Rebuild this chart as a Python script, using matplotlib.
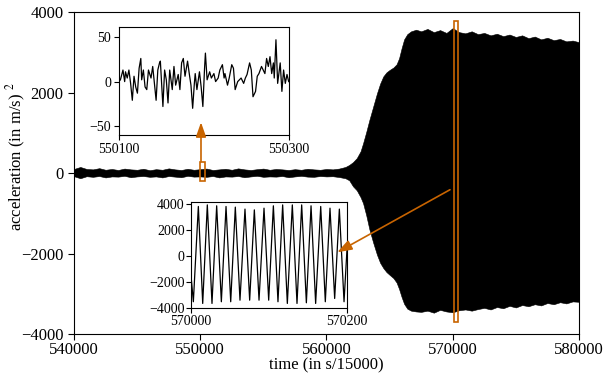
import matplotlib
matplotlib.use("Agg")
import matplotlib.pyplot as plt
from matplotlib.patches import Rectangle

plt.rcParams['font.family'] = ['Liberation Serif', 'DejaVu Serif']
plt.rcParams['mathtext.fontset'] = 'stix'

# ---------------- data ----------------
# envelope of the main acceleration signal (time in samples, value in m/s^2)
env_t = [540000, 540500, 541000, 541500, 542000, 542500, 543000, 543500, 544000, 544500,
         545000, 545500, 546000, 546500, 547000, 547500, 548000, 548500, 549000, 549500,
         550000, 550500, 551000, 551500, 552000, 552500, 553000, 553500, 554000, 554500,
         555000, 555500, 556000, 556500, 557000, 557500, 558000, 558500, 559000, 559500,
         560000, 560500, 561000,
         561500, 561800, 562100, 562400, 562700, 562900, 563150, 563400, 563700, 564000,
         564250, 564500, 564750, 565000, 565300, 565550, 565750, 565950, 566150, 566400,
         566700, 567100,
         567500, 568000, 568500, 569000, 569500, 570000, 570500, 571000, 571500, 572000,
         572500, 573000, 573500, 574000, 574500, 575000, 575500, 576000, 576500, 577000,
         577500, 578000, 578500, 579000, 579500, 580000]
env_hi = [100, 150, 100, 90, 120, 80, 100, 75, 110, 90,
          80, 105, 70, 95, 80, 115, 90, 75, 105, 80,
          95, 110, 75, 90, 105, 80, 115, 90, 75, 95,
          110, 80, 100, 90, 75, 95, 80, 105, 90, 80,
          100, 90, 110,
          150, 200, 270, 370, 540, 740, 1020, 1320, 1650, 1980,
          2220, 2400, 2500, 2560, 2620, 2700, 2850, 3100, 3320, 3450,
          3520, 3560,
          3520, 3580, 3500, 3550, 3480, 3600, 3500, 3470, 3520, 3450,
          3480, 3420, 3460, 3400, 3440, 3380, 3420, 3350, 3390, 3320,
          3360, 3300, 3330, 3270, 3290, 3250]
env_lo = [-80, -130, -80, -95, -75, -110, -85, -90, -70, -105,
          -85, -75, -95, -85, -110, -75, -90, -105, -70, -90,
          -85, -95, -75, -110, -85, -90, -75, -105, -85, -70,
          -95, -85, -90, -75, -105, -85, -70, -90, -95, -75,
          -85, -80, -100,
          -130, -180, -330, -430, -600, -750, -1050, -1400, -1730, -2030,
          -2230, -2360, -2460, -2530, -2610, -2720, -2880, -3080, -3250, -3370,
          -3420, -3440,
          -3450, -3420, -3470, -3400, -3440, -3460, -3410, -3390, -3420, -3380,
          -3350, -3390, -3330, -3360, -3300, -3340, -3280, -3310, -3260, -3290,
          -3230, -3260, -3210, -3240, -3190, -3200]

# upper inset: quiet part of the signal
in1_start = 550100
in1_off = [0, 2, 5, 7, 8, 10, 12, 14, 16, 18, 20, 22, 24, 26, 27, 29, 31, 33, 35, 38,
           40, 42, 44, 46, 48, 49, 52, 54, 56, 58, 60, 63, 65, 67, 70, 72, 74, 76, 78, 81,
           83, 85, 87, 89, 90, 92, 95, 97, 99, 101, 102, 104, 107, 109, 112, 114, 117, 119,
           122, 124, 125, 128, 130, 133, 135, 137, 140, 142, 144, 147, 149, 151, 154, 156,
           158, 161, 163, 165, 168, 170, 172, 174, 176, 178, 180, 182, 183, 185, 187, 190,
           192, 194, 196, 198, 200]
in1_val = [0, 2, 13, 0, 11, 4, 13, -2, -21, 6, -6, -13, 15, 26, 2, 13, -6, -9, 13, 4,
           17, -2, -21, 13, 21, 23, -28, 13, 2, -24, 13, -9, 17, -4, 8, -9, 21, 26, 6, 23,
           9, -4, -30, -2, 9, -9, 11, -6, -28, 15, 32, 2, 11, 4, 9, 0, 4, 13,
           19, 4, 9, -4, 4, 19, 15, -9, 0, 2, 4, -2, 4, 8, 21, 13,
           -17, -11, 6, 9, 17, 13, 9, 26, 17, 28, 9, 21, 4, 47, -2, 21,
           -11, 13, -2, 8, 0]

# lower inset: oscillating part (peaks / troughs)
in2_start = 570000
in2_off = [0, 3, 9.4, 15, 20.9, 26.9, 32.9, 38.9, 44.9, 50.9, 56.8, 62.8, 69.2, 75.2,
           81.2, 87.2, 93.6, 99.6, 105.6, 111.5, 117.5, 123.5, 129.9, 135.9, 141.9,
           147.9, 153.9, 159.8, 166.3, 172.2, 178.2, 184.2, 190.2, 196.2, 200]
in2_val = [-1500, -3500, 3780, -3630, 3900, -3630, 3830, -3500, 3780, -3500, 3730, -3380,
           3580, -3380, 3520, -3380, 3650, -3380, 3830, -3500, 3900, -3630, 3900, -3630,
           3900, -3580, 3830, -3630, 3780, -3500, 3650, -3250, 3580, -3500, 500]

main_xticks = [540000, 550000, 560000, 570000, 580000]
main_yticks = [-4000, -2000, 0, 2000, 4000]
in1_xticks = [550100, 550300]
in1_yticks = [-50, 0, 50]
in2_xticks = [570000, 570200]
in2_yticks = [-4000, -2000, 0, 2000, 4000]

ORANGE = '#c86400'


def minus(v):
    return str(v).replace('-', '\u2212')


# ---------------- figure ----------------
fig = plt.figure(figsize=(6.06, 3.75), dpi=100)
ax = fig.add_axes([0.1221, 0.1093, 0.8333, 0.8587])

ax.fill_between(env_t, env_lo, env_hi, color='black', linewidth=0.4, edgecolor='black')
ax.set_xlim(540000, 580000)
ax.set_ylim(-4000, 4000)
ax.set_xticks(main_xticks)
ax.set_xticklabels([str(v) for v in main_xticks])
ax.set_yticks(main_yticks)
ax.set_yticklabels([minus(v) for v in main_yticks])
ax.tick_params(direction='out', length=4, width=0.8, labelsize=12, top=False, right=False)
ax.tick_params(axis='x', pad=1.5)
ax.set_xlabel('time (in s/15000)', fontsize=12)
ax.xaxis.set_label_coords(0.5, -0.074)
ax.set_ylabel('acceleration (in m/s) $^2$', fontsize=12)
ax.yaxis.set_label_coords(-0.092, 0.55)
for s in ax.spines.values():
    s.set_linewidth(0.8)

# orange boxes
ax.add_patch(Rectangle((550000, -200), 400, 480, fill=False, edgecolor=ORANGE,
                       linewidth=1.2, zorder=5))
ax.add_patch(Rectangle((570100, -3700), 300, 7470, fill=False, edgecolor=ORANGE,
                       linewidth=1.2, zorder=5))

# upper inset
ax1 = fig.add_axes([0.1959, 0.64, 0.2805, 0.2872])
ax1.plot([in1_start + o for o in in1_off], in1_val, color='black', linewidth=0.9)
ax1.set_xlim(550100, 550300)
ax1.set_ylim(-60, 61)
ax1.set_xticks(in1_xticks)
ax1.set_xticklabels([str(v) for v in in1_xticks])
ax1.set_yticks(in1_yticks)
ax1.set_yticklabels([minus(v) for v in in1_yticks])
ax1.tick_params(direction='out', length=3.5, width=0.8, labelsize=10, pad=2)
for s in ax1.spines.values():
    s.set_linewidth(0.8)

# lower inset
ax2 = fig.add_axes([0.3152, 0.1779, 0.2574, 0.2827])
ax2.plot([in2_start + o for o in in2_off], in2_val, color='black', linewidth=0.9)
ax2.set_xlim(570000, 570200)
ax2.set_ylim(-4000, 4100)
ax2.set_xticks(in2_xticks)
ax2.set_xticklabels([str(v) for v in in2_xticks])
ax2.set_yticks(in2_yticks)
ax2.set_yticklabels([minus(v) for v in in2_yticks])
ax2.tick_params(direction='out', length=3.5, width=0.8, labelsize=10, pad=1)
for s in ax2.spines.values():
    s.set_linewidth(0.8)

# arrows (drawn on top of the insets)
arrow_kw = dict(arrowstyle='-|>,head_length=0.8,head_width=0.28',
                color=ORANGE, lw=1.2, mutation_scale=11, shrinkA=0, shrinkB=0)
ax1.annotate('', xy=(550060, 1260), xycoords=ax.transData,
             xytext=(550060, 290), textcoords=ax.transData,
             arrowprops=arrow_kw, annotation_clip=False)
ax2.annotate('', xy=(560855, -1970), xycoords=ax.transData,
             xytext=(569782, -415), textcoords=ax.transData,
             arrowprops=arrow_kw, annotation_clip=False)

fig.savefig('out.png', dpi=100)
